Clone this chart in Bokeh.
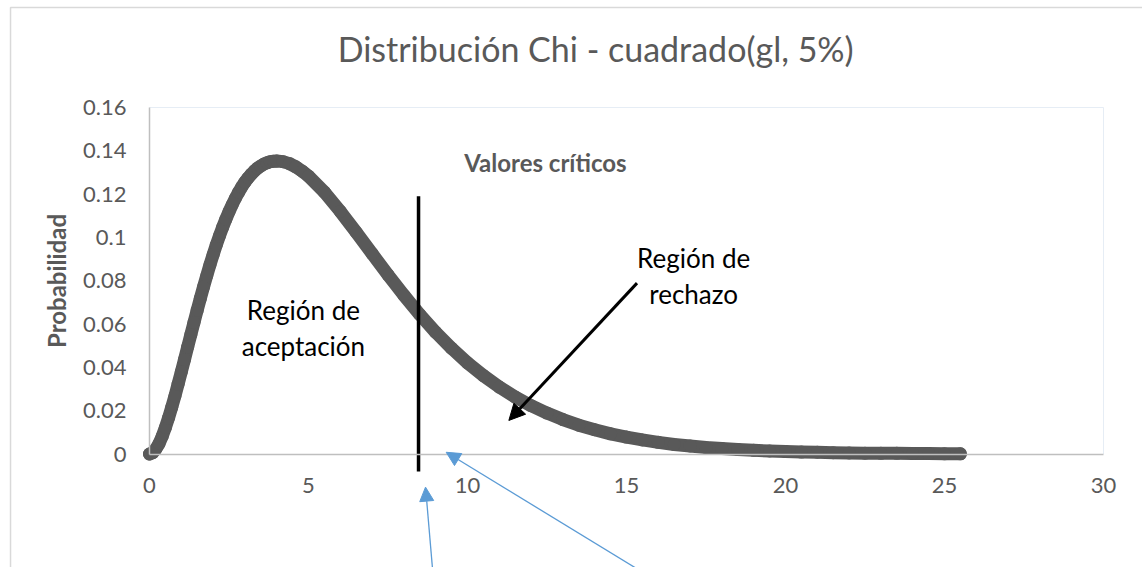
from bokeh.plotting import figure
from bokeh.models import Range1d, Label, Arrow, NormalHead, FixedTicker, CustomJSTickFormatter
from bokeh.embed import file_html
from bokeh.resources import INLINE

# ---- data ----
x_vals = [0.0, 0.1, 0.2, 0.3, 0.4, 0.5, 0.6, 0.7, 0.8, 0.9,
          1.0, 1.1, 1.2, 1.3, 1.4, 1.5, 1.6, 1.7, 1.8, 1.9,
          2.0, 2.1, 2.2, 2.3, 2.4, 2.5, 2.6, 2.7, 2.8, 2.9,
          3.0, 3.1, 3.2, 3.3, 3.4, 3.5, 3.6, 3.7, 3.8, 3.9,
          4.0, 4.2, 4.4, 4.6, 4.8, 5.0, 5.5, 6.0, 6.5, 7.0,
          7.5, 8.0, 8.5, 9.0, 9.5, 10.0, 10.5, 11.0, 11.5, 12.0,
          12.5, 13.0, 13.5, 14.0, 14.5, 15.0, 15.5, 16.0, 16.5, 17.0,
          17.5, 18.0, 18.5, 19.0, 19.5, 20.0, 20.5, 21.0, 21.5, 22.0,
          22.5, 23.0, 23.5, 24.0, 24.5, 25.0, 25.5]
pdf_vals = [0.0, 0.0006, 0.0023, 0.0048, 0.0082, 0.0122, 0.0167, 0.0216, 0.0268, 0.0323,
            0.0379, 0.0436, 0.0494, 0.0551, 0.0608, 0.0664, 0.0719, 0.0772, 0.0823, 0.0873,
            0.0920, 0.0965, 0.1007, 0.1047, 0.1084, 0.1119, 0.1151, 0.1181, 0.1208, 0.1233,
            0.1255, 0.1275, 0.1292, 0.1307, 0.1320, 0.1330, 0.1339, 0.1345, 0.1350, 0.1352,
            0.1353, 0.1350, 0.1341, 0.1326, 0.1306, 0.1283, 0.1209, 0.1120, 0.1024, 0.0925,
            0.0827, 0.0733, 0.0644, 0.0562, 0.0488, 0.0421, 0.0362, 0.0309, 0.0263, 0.0223,
            0.0189, 0.0159, 0.0133, 0.0112, 0.0093, 0.0078, 0.0065, 0.0054, 0.0044, 0.0037,
            0.0030, 0.0025, 0.0021, 0.0017, 0.0014, 0.0011, 0.0009, 0.0008, 0.0006, 0.0005,
            0.0004, 0.0003, 0.0003, 0.0002, 0.0002, 0.0001, 0.0001]
critical_x = 8.46
critical_top = 0.119
x_ticks = [0, 5, 10, 15, 20, 25, 30]
y_ticks = [0, 0.02, 0.04, 0.06, 0.08, 0.10, 0.12, 0.14, 0.16]
x_bounds = (0, 30)
y_bounds = (0, 0.16)
title_text = "Distribución Chi - cuadrado(gl, 5%)"
y_label = "Probabilidad"
note_critical = "Valores críticos"
accept_lines = ["Región de", "aceptación"]
reject_lines = ["Región de", "rechazo"]

FONT = "Lato"
GREY = "#595959"
BLUE = "#5b9bd5"

# The whole canvas is the plot frame, so that arrows and lines can run
# below the axis; the axes sit at fixed data locations inside it.
W, H = 1142, 567
p = figure(width=W, height=H, output_backend="svg", toolbar_location=None, title=None,
           x_range=Range1d(-4.6855, 31.226), y_range=Range1d(-0.05241, 0.20941),
           min_border=0, background_fill_color="white", border_fill_color="white")
p.grid.visible = False
p.outline_line_color = None

p.xaxis.ticker = FixedTicker(ticks=x_ticks)
p.yaxis.ticker = FixedTicker(ticks=y_ticks)
p.xaxis.bounds = x_bounds
p.yaxis.bounds = y_bounds
p.xaxis.fixed_location = 0
p.yaxis.fixed_location = 0
p.yaxis.formatter = CustomJSTickFormatter(code="return String(Number(tick.toFixed(2)));")
for ax in (p.xaxis, p.yaxis):
    ax.axis_line_color = "#bfbfbf"
    ax.axis_line_width = 1.5
    ax.major_tick_line_color = None
    ax.minor_tick_line_color = None
    ax.major_label_text_font = FONT
    ax.major_label_text_font_size = "22px"
    ax.major_label_text_color = GREY
p.xaxis.major_label_standoff = 18
p.yaxis.major_label_standoff = 17
p.yaxis.axis_label = y_label
p.yaxis.axis_label_text_font = FONT
p.yaxis.axis_label_text_font_size = "24px"
p.yaxis.axis_label_text_font_style = "bold"
p.yaxis.axis_label_text_color = GREY
p.yaxis.axis_label_standoff = 9

# outer chart border and faint plot-area border
p.line([-4.37, -4.37, 40], [-0.06, 0.2062, 0.2062], line_color="#d9d9d9", line_width=1.5)
p.line([x_bounds[0], x_bounds[1], x_bounds[1]], [y_bounds[1], y_bounds[1], y_bounds[0]],
       line_color="#e6edf5", line_width=1)

# curve: thick line plus dense markers
p.line(x_vals, pdf_vals, line_width=13, color=GREY, line_cap="round", line_join="round")
p.scatter(x_vals, pdf_vals, size=13, color=GREY, line_color=None)

# critical value line
p.line([critical_x, critical_x], [-0.0081, critical_top], line_color="black", line_width=3.5)

# black arrow to rejection region
p.add_layout(Arrow(x_start=15.33, y_start=0.0789, x_end=11.30, y_end=0.0155,
                   line_color="black", line_width=3,
                   end=NormalHead(size=16, fill_color="black", line_color="black")))

# blue arrows
for xs0, ys0, xe, ye in [(8.90, -0.0530, 8.68, -0.0153), (15.33, -0.0530, 9.33, 0.0008)]:
    p.add_layout(Arrow(x_start=xs0, y_start=ys0, x_end=xe, y_end=ye,
                       line_color=BLUE, line_width=1.3,
                       end=NormalHead(size=14, fill_color=BLUE, line_color=BLUE)))

# texts
p.add_layout(Label(x=14.03, y=0.1872, text=title_text, text_font=FONT, text_font_size="34px",
                   text_color=GREY, text_align="center", text_baseline="middle"))
p.add_layout(Label(x=12.45, y=0.1346, text=note_critical, text_font=FONT, text_font_size="24px",
                   text_font_style="bold", text_color=GREY, text_align="center",
                   text_baseline="middle"))
for txt, yy in zip(accept_lines, [0.0663, 0.0501]):
    p.add_layout(Label(x=4.84, y=yy, text=txt, text_font=FONT, text_font_size="26px",
                       text_color="black", text_align="center", text_baseline="middle"))
for txt, yy in zip(reject_lines, [0.0903, 0.0741]):
    p.add_layout(Label(x=17.11, y=yy, text=txt, text_font=FONT, text_font_size="26px",
                       text_color="black", text_align="center", text_baseline="middle"))

open("out.html", "w").write(file_html(p, INLINE))
